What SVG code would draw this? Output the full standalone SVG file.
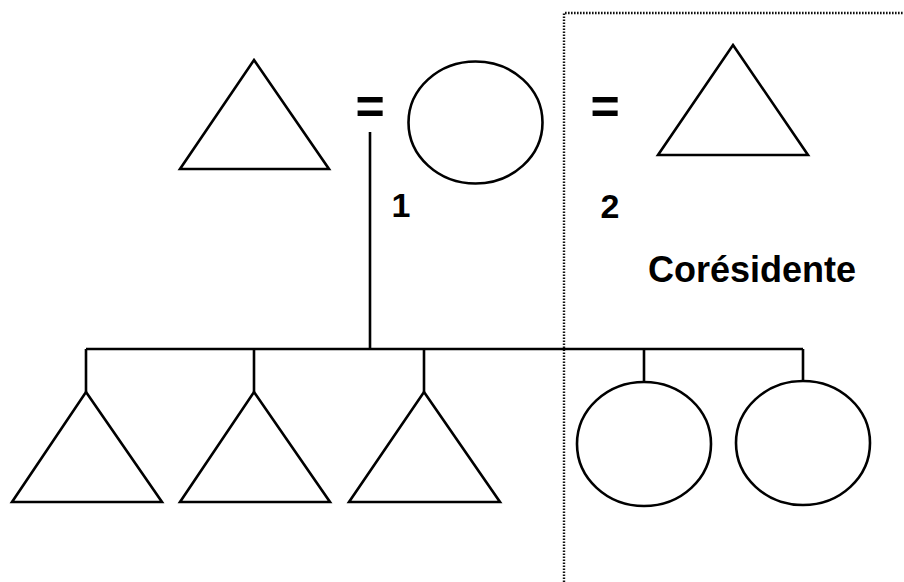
<svg xmlns="http://www.w3.org/2000/svg" width="904" height="582" viewBox="0 0 904 582">
<style>
.s{fill:none;stroke:#000;stroke-width:2.6;stroke-linejoin:miter}
.c{fill:none;stroke:#000;stroke-width:2.6}
.t{font-family:"Liberation Sans",Arial,sans-serif;font-weight:bold;fill:#000}
.d{fill:none;stroke:#111;stroke-width:2.4;stroke-dasharray:1.6 1.4}
</style>
<rect width="904" height="582" fill="#fff"/>
<path class="d" d="M564,582 V13 H904"/>
<g id="connectors">
<path class="c" d="M370,132 V349 M86,349 H803 M86,349 V392 M254,349 V392 M424,349 V392 M644,349 V382 M803,349 V381"/>
</g>
<g id="father"><polygon class="s" points="254,60 329,169 180,169"/></g>
<g id="mother"><ellipse class="s" cx="475.5" cy="122.5" rx="67" ry="61"/></g>
<g id="husband2"><polygon class="s" points="733,45 808,155 658,155"/></g>
<g id="eq1"><text class="t" x="370" y="124" font-size="50" text-anchor="middle">=</text></g>
<g id="eq2"><text class="t" x="605" y="124" font-size="50" text-anchor="middle">=</text></g>
<g id="label1"><text class="t" x="401" y="217" font-size="34" text-anchor="middle">1</text></g>
<g id="label2"><text class="t" x="610" y="218" font-size="34" text-anchor="middle">2</text></g>
<g id="coresidente"><text class="t" x="648" y="282" font-size="36">Corésidente</text></g>
<g id="son1"><polygon class="s" points="86,392 162,502 12,502"/></g>
<g id="son2"><polygon class="s" points="254,392 330,502 180,502"/></g>
<g id="son3"><polygon class="s" points="424,392 500,502 349,502"/></g>
<g id="daughter1"><ellipse class="s" cx="644" cy="444" rx="67" ry="62"/></g>
<g id="daughter2"><ellipse class="s" cx="803" cy="443" rx="67" ry="62"/></g>
</svg>
